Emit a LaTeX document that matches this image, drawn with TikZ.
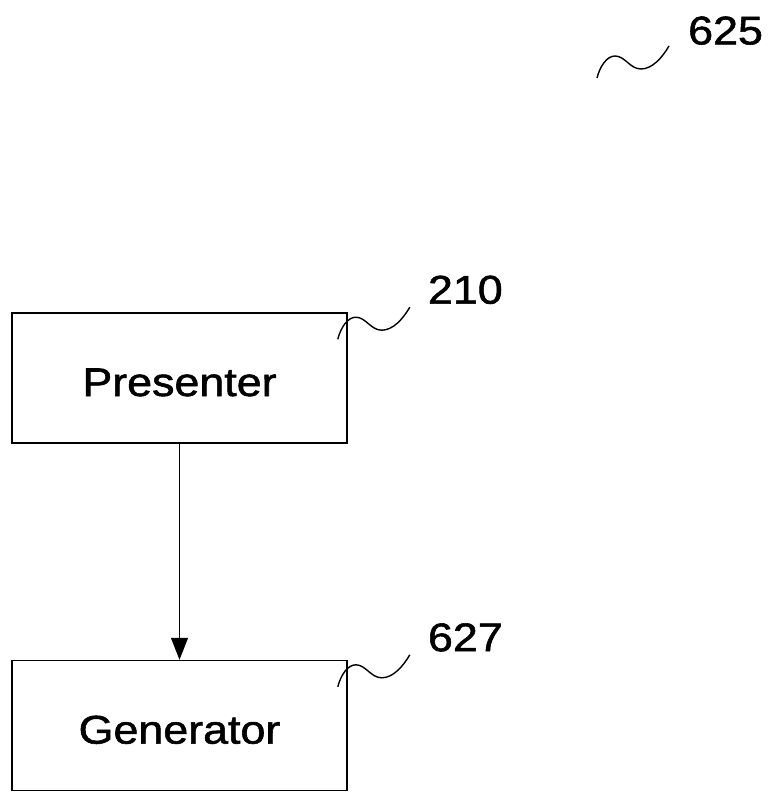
\documentclass[tikz,border=0pt]{standalone}
\usepackage{fontspec}
\newfontfamily\labfont[FakeStretch=1.12,FakeBold=1.4]{Liberation Sans}
\usetikzlibrary{arrows.meta,positioning}

\tikzset{
  box/.style={draw, line width=1.6pt, minimum width=335pt, minimum height=130pt,
    inner sep=0pt, text height=36pt, text depth=0pt,
    font=\labfont\fontsize{40}{44}\selectfont},
  refnum/.style={anchor=south west, inner sep=0pt,
    font=\labfont\fontsize{40}{44}\selectfont},
  lead/.style={line width=1.4pt},
  arr/.style={line width=1.3pt, -{Triangle[length=22pt,width=17pt]}}
}
% wavy lead line from a reference numeral to its part
\newcommand{\LeadLine}[1]{\draw[lead] (#1) .. controls +(3,-12) and +(-8,0) .. ++(18,-22)
  .. controls +(10,0) and +(-11,0) .. ++(26,13) .. controls +(11,0) and +(-7,12) .. ++(28,-23);}

\begin{document}
\begin{tikzpicture}[x=1pt, y=-1pt]
  \useasboundingbox (0,0) rectangle (770,792);

  \node[box] (pres) at (179.5,378) {Presenter};
  \node[box, below=216pt of pres] (gen) {Generator};

  \draw[arr] (pres) -- (gen);

  % reference numerals
  \coordinate (s625) at (597,78);
  \coordinate (s210) at ([shift={(-10,27)}]pres.north east);
  \coordinate (s627) at ([shift={(-10,27)}]gen.north east);

  \LeadLine{s625}
  \LeadLine{s210}
  \LeadLine{s627}

  \node[refnum] (n625) at ([shift={(91,-33)}]s625) {625};
  \node[refnum] (n210) at ([shift={(90,-35)}]s210) {210};
  \node[refnum] (n627) at ([shift={(90,-35)}]s627) {627};
\end{tikzpicture}
\end{document}
